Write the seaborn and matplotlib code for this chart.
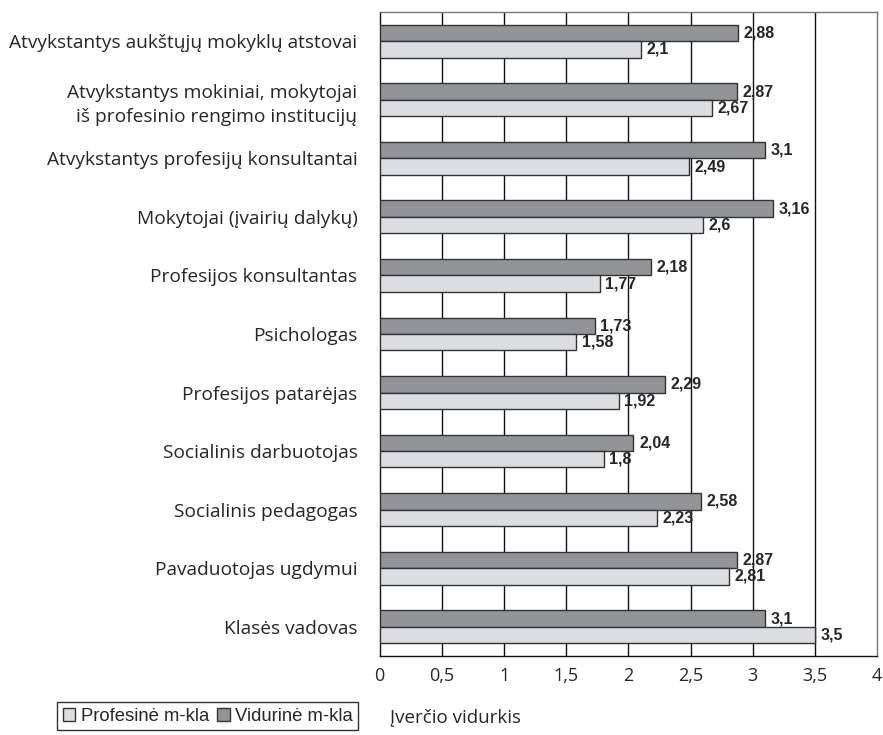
import numpy as np
import pandas as pd
import seaborn as sns
import matplotlib.pyplot as plt
from matplotlib.patches import Patch

categories = [
    'Atvykstantys aukštųjų mokyklų atstovai',
    'Atvykstantys mokiniai, mokytojai\niš profesinio rengimo institucijų',
    'Atvykstantys profesijų konsultantai',
    'Mokytojai (įvairių dalykų)',
    'Profesijos konsultantas',
    'Psichologas',
    'Profesijos patarėjas',
    'Socialinis darbuotojas',
    'Socialinis pedagogas',
    'Pavaduotojas ugdymui',
    'Klasės vadovas',
]
vidurine = [2.88, 2.87, 3.1, 3.16, 2.18, 1.73, 2.29, 2.04, 2.58, 2.87, 3.1]
profesine = [2.1, 2.67, 2.49, 2.6, 1.77, 1.58, 1.92, 1.8, 2.23, 2.81, 3.5]
series_names = ['Vidurinė m-kla', 'Profesinė m-kla']
x_ticks = [0, 0.5, 1, 1.5, 2, 2.5, 3, 3.5, 4]

df = pd.DataFrame({
    'kategorija': categories * 2,
    'reiksme': vidurine + profesine,
    'mokykla': [series_names[0]] * len(categories) + [series_names[1]] * len(categories),
})

colors = {series_names[0]: '#939497', series_names[1]: '#dcdddf'}

sns.set_style('white')
plt.rcParams['font.family'] = ['Open Sans', 'DejaVu Sans']

fig = plt.figure(figsize=(8.83, 7.35), dpi=100)
ax = fig.add_axes([0.430, 0.1075, 0.5635, 0.8762])

sns.barplot(data=df, y='kategorija', x='reiksme', hue='mokykla', hue_order=series_names,
            palette=colors, orient='h', width=0.56, edgecolor='#333333', linewidth=1.0,
            ax=ax, legend=False, zorder=3)

ax.set_xlim(0, 4)
ax.set_ylim(len(categories) - 0.5, -0.5)
ax.set_xticks(x_ticks)
ax.set_xticklabels([f'{t:g}'.replace('.', ',') for t in x_ticks], fontsize=13)
ax.set_yticks(range(len(categories)))
ax.set_yticklabels(categories, fontsize=13.8, linespacing=1.45)
ax.tick_params(axis='y', length=0, pad=16)
ax.tick_params(axis='x', direction='inout', length=8, width=1, pad=4)
ax.set_yticks(np.arange(-0.5, len(categories), 1), minor=True)
ax.tick_params(axis='y', which='minor', direction='out', length=5, width=1, color='#333333')
ax.set_xlabel('')
ax.set_ylabel('')

for t in x_ticks[1:-1]:
    ax.axvline(t, color='#111111', lw=1.0, zorder=1)

for sp in ['left', 'bottom']:
    ax.spines[sp].set_color('#111111')
    ax.spines[sp].set_linewidth(1.0)
for sp in ['top', 'right']:
    ax.spines[sp].set_color('#777777')
    ax.spines[sp].set_linewidth(1.0)

for container in ax.containers:
    ax.bar_label(container, labels=[f'{v.get_width():g}'.replace('.', ',') for v in container],
                 padding=4, fontsize=11.5, fontweight='bold', family='Liberation Sans')

fig.text(455 / 883, 1 - 718 / 735, 'Įverčio vidurkis', fontsize=13.5, ha='center', va='center')

handles = [Patch(facecolor=colors[series_names[1]], edgecolor='#333333', label=series_names[1]),
           Patch(facecolor=colors[series_names[0]], edgecolor='#333333', label=series_names[0])]
leg = fig.legend(handles=handles, loc='upper left', bbox_to_anchor=(57 / 883, 1 - 702 / 735),
                 ncol=2, frameon=True, fancybox=False, edgecolor='#000000',
                 prop={'family': 'Liberation Sans', 'size': 13.3}, handlelength=0.7, handleheight=0.7,
                 handletextpad=0.3, columnspacing=0.4, borderpad=0.3, borderaxespad=0)
leg.get_frame().set_linewidth(1.0)

fig.savefig('out.png', dpi=100)
